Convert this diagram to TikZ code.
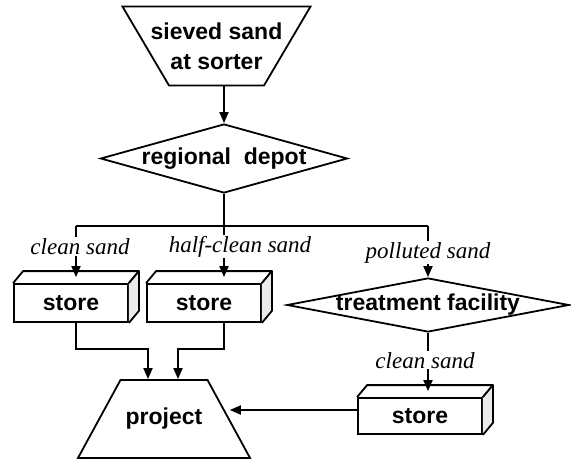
\documentclass[tikz,border=0pt]{standalone}
\usepackage{fontspec}
\setmainfont{Liberation Serif}
\setsansfont{Liberation Sans}
\usetikzlibrary{arrows.meta,positioning,calc,shapes.geometric}
\newcommand{\boxfont}{\fontsize{23}{30}\selectfont\sffamily\bfseries}
\newcommand{\flowfont}{\fontsize{23}{28}\selectfont\itshape}

\begin{document}
\begin{tikzpicture}[x=1pt,y=-1pt,>={Triangle[length=11pt,width=9pt]},line width=1.8pt,
  every label/.style={font=\boxfont,align=center},
  tray/.style={trapezium,draw,minimum size=0pt},
  gate/.style={diamond,draw,aspect=1,inner sep=0pt},
  store/.style={rectangle,draw,fill=white,font=\boxfont,inner sep=0pt},
  flow/.style={font=\flowfont,fill=white,inner sep=1pt}]
  \useasboundingbox (0,0) rectangle (571,460);
  \node[tray,shape border rotate=180,trapezium angle=59.5,inner xsep=47.5pt,inner ysep=39.5pt,
    label={center:sieved sand\\at sorter}] (sorter) at (216.5,46) {};
  \node[gate,minimum width=247pt,minimum height=69pt,label={center:regional~~depot}] (depot) at (224,158.5) {};
  \node[store,minimum width=114pt,minimum height=38pt] (st1) at (71,303) {store};
  \node[store,minimum width=114pt,minimum height=38pt] (st2) at (204,303) {store};
  \node[gate,minimum width=282pt,minimum height=54pt,label={center:treatment facility}] (treat) at (428,305) {};
  \node[store,minimum width=124pt,minimum height=36pt] (st3) at (420,416) {store};
  \node[tray,trapezium angle=61.4,inner xsep=43.5pt,inner ysep=39pt,label={center:project}] (project) at (164,419) {};
  \foreach \s in {st1,st2,st3} {
    \draw[line join=round] (\s.north west) -- ++(10,-12) -- ([shift={(10,-12)}]\s.north east) -- (\s.north east);
    \draw[line join=round,fill=black!8] (\s.north east) -- ++(10,-12) -- ([shift={(10,-12)}]\s.south east) -- (\s.south east);
  }
  \coordinate (j1) at (76,226);
  \coordinate (j2) at (224,226);
  \coordinate (j3) at (428,226);
  \coordinate (k1) at (148,349);
  \coordinate (k2) at (178,349);
  \draw[->] (sorter.south -| depot.north) -- (depot.north);
  \draw (depot.south) -- (j2);
  \draw (j1) -- (j3);
  \draw[->] (j1) -- node[flow,pos=0.4,xshift=4pt] {clean sand} ([yshift=6pt]st1.north -| j1);
  \draw[->] (j2) -- node[flow,pos=0.4,xshift=16pt] {half-clean sand} ([yshift=6pt]st2.north -| j2);
  \draw[->] (j3) -- node[flow,pos=0.52] {polluted sand} (treat.north);
  \draw[->] (treat.south) -- node[flow,pos=0.47,xshift=-3pt] {clean sand} ([yshift=6pt]st3.north -| treat.south);
  \draw[->] (st1.south -| j1) |- (k1) -- (k1 |- project.north);
  \draw[->] (st2.south -| j2) |- (k2) -- (k2 |- project.north);
  \draw[->] ([yshift=6pt]st3.west) -- ([yshift=6pt]st3.west -| project.east);
\end{tikzpicture}
\end{document}
